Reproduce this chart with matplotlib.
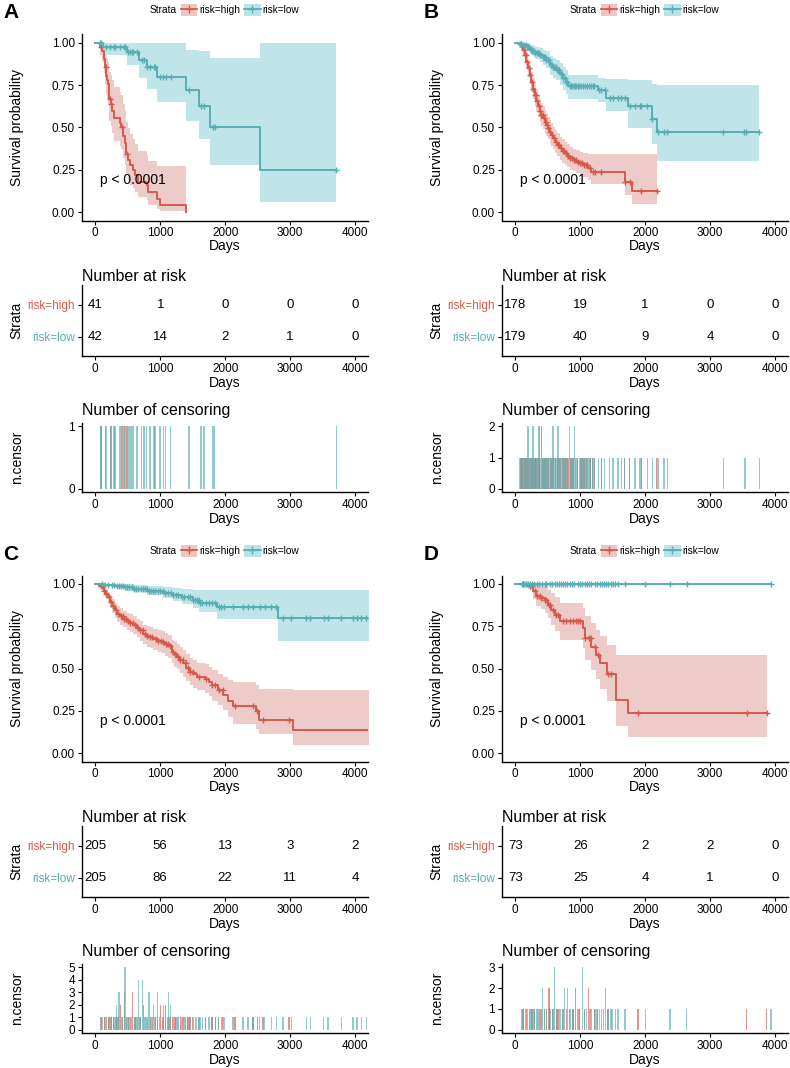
import numpy as np
import matplotlib
matplotlib.use('Agg')
import matplotlib.pyplot as plt
from matplotlib.patches import Patch
from matplotlib.lines import Line2D

plt.rcParams['font.family'] = ['Liberation Sans', 'DejaVu Sans']

RED = '#D65A4C'
TEAL = '#58AEB3'
FILL = {RED: '#EBC6C3', TEAL: '#BAE3E6'}
W, H = 790, 1068

risk_days = [0, 1000, 2000, 3000, 4000]

# ---- panel A ----
a_hi_t = [77, 103, 128, 140, 153, 170, 185, 194, 205, 215, 240, 260, 281, 383, 395, 434, 455, 470, 480, 511,
          540, 575, 613, 664, 792, 817, 945, 996, 1390]
a_hi_s = [0.976, 0.952, 0.928, 0.904, 0.855, 0.806, 0.782, 0.757, 0.709, 0.67, 0.64, 0.60, 0.555, 0.525, 0.50,
          0.45, 0.41, 0.38, 0.345, 0.31, 0.28, 0.25, 0.22, 0.18, 0.16, 0.12, 0.08, 0.04, 0.0]
a_hi_up = [1.0, 1.0, 1.0, 0.99, 0.96, 0.93, 0.91, 0.89, 0.86, 0.83, 0.81, 0.78, 0.74, 0.71, 0.69, 0.64, 0.60,
           0.57, 0.53, 0.50, 0.46, 0.43, 0.40, 0.36, 0.34, 0.30, 0.27, 0.27, 0.27]
a_hi_lo = [0.93, 0.89, 0.86, 0.82, 0.76, 0.70, 0.67, 0.64, 0.58, 0.54, 0.51, 0.47, 0.42, 0.39, 0.37, 0.32, 0.28,
           0.25, 0.22, 0.19, 0.16, 0.14, 0.12, 0.09, 0.07, 0.04, 0.02, 0.005, 0.0]
a_hi_cens = [92, 158, 230, 245, 409, 490]

a_lo_t = [123, 490, 680, 790, 945, 1395, 1594, 1773, 2529]
a_lo_s = [0.975, 0.945, 0.90, 0.855, 0.80, 0.72, 0.63, 0.505, 0.25]
a_lo_up = [1.0, 1.0, 1.0, 1.0, 1.0, 0.96, 0.95, 0.91, 1.0]
a_lo_lo = [0.93, 0.87, 0.79, 0.73, 0.65, 0.54, 0.43, 0.28, 0.057]
a_lo_cens = [77, 90, 169, 230, 291, 306, 383, 444, 460, 511, 536, 562, 587, 639, 715, 751, 792, 843, 904, 920,
             996, 1047, 1083, 1160, 1446, 1625, 1671, 1813, 1839, 3714]

a_risk_hi = [41, 1, 0, 0, 0]
a_risk_lo = [42, 14, 2, 1, 0]

# ---- panel B ----
b_hi_t = [50, 90, 120, 144, 170, 195, 220, 247, 272, 298, 325, 350, 375, 401, 430, 452, 480, 504, 530, 555,
          580, 607, 645, 684, 720, 761, 800, 838, 890, 941, 990, 1044, 1121, 1172, 1686, 1800]
b_hi_s = [0.994, 0.98, 0.96, 0.93, 0.89, 0.85, 0.81, 0.77, 0.73, 0.69, 0.655, 0.625, 0.60, 0.575, 0.555, 0.535,
          0.515, 0.496, 0.475, 0.456, 0.435, 0.417, 0.395, 0.377, 0.362, 0.348, 0.333, 0.318, 0.308, 0.298,
          0.289, 0.279, 0.259, 0.239, 0.18, 0.126]
b_hi_up = [1.0, 1.0, 0.99, 0.97, 0.94, 0.90, 0.87, 0.83, 0.79, 0.76, 0.72, 0.69, 0.67, 0.645, 0.625, 0.605,
           0.585, 0.565, 0.545, 0.525, 0.505, 0.485, 0.465, 0.445, 0.43, 0.415, 0.40, 0.385, 0.375, 0.365,
           0.355, 0.35, 0.345, 0.345, 0.345, 0.345]
b_hi_lo = [0.98, 0.96, 0.93, 0.89, 0.85, 0.80, 0.76, 0.71, 0.67, 0.63, 0.59, 0.56, 0.53, 0.51, 0.49, 0.47,
           0.45, 0.43, 0.41, 0.39, 0.37, 0.35, 0.33, 0.31, 0.29, 0.28, 0.265, 0.25, 0.24, 0.23, 0.22, 0.21,
           0.19, 0.165, 0.10, 0.047]
b_hi_cens = [85, 100, 130, 150, 165, 185, 210, 230, 255, 280, 300, 320, 340, 365, 375, 375, 401, 401, 420, 445,
             465, 490, 510, 540, 565, 590, 620, 650, 670, 700, 730, 750, 780, 810, 850, 870, 900, 930, 960,
             1000, 1030, 1060, 1090, 1110, 1150, 1190, 1224, 1327, 1686, 1763, 1943, 2175]

b_lo_t = [60, 120, 180, 221, 260, 300, 375, 420, 470, 530, 580, 632, 690, 735, 775, 812, 1275, 1404, 1738,
          2098, 2175]
b_lo_s = [0.994, 0.988, 0.976, 0.96, 0.952, 0.94, 0.93, 0.915, 0.90, 0.87, 0.855, 0.84, 0.815, 0.79, 0.77,
          0.745, 0.72, 0.675, 0.625, 0.55, 0.472]
b_lo_up = [1.0, 1.0, 1.0, 0.99, 0.985, 0.975, 0.97, 0.96, 0.95, 0.925, 0.91, 0.9, 0.88, 0.86, 0.84, 0.81,
           0.79, 0.785, 0.78, 0.76, 0.75]
b_lo_lo = [0.98, 0.97, 0.95, 0.93, 0.92, 0.905, 0.89, 0.87, 0.85, 0.81, 0.79, 0.78, 0.75, 0.72, 0.70, 0.67,
           0.65, 0.60, 0.50, 0.40, 0.30]
b_lo_cens = [70, 95, 120, 140, 160, 180, 195, 195, 215, 240, 255, 272, 272, 290, 310, 330, 345, 360, 360, 380,
             420, 440, 460, 480, 500, 520, 545, 560, 581, 581, 600, 620, 640, 658, 658, 680, 700, 720, 740,
             760, 780, 800, 838, 838, 860, 880, 900, 915, 915, 940, 960, 985, 1010, 1040, 1070, 1100, 1130,
             1160, 1190, 1215, 1285, 1327, 1378, 1455, 1506, 1584, 1635, 1686, 1763, 1841, 1918, 1943, 2036,
             2110, 2200, 2293, 2344, 3203, 3527, 3548, 3760]

b_risk_hi = [178, 19, 1, 0, 0]
b_risk_lo = [179, 40, 9, 4, 0]

# ---- panel C ----
c_hi_t = [60, 100, 130, 160, 190, 226, 260, 303, 340, 379, 430, 482, 530, 585, 640, 687, 740, 790, 840, 892,
          960, 1020, 1070, 1123, 1174, 1210, 1251, 1300, 1354, 1400, 1456, 1510, 1559, 1687, 1750, 1790, 1892,
          1969, 2046, 2123, 2482, 2523, 3046]
c_hi_s = [0.99, 0.975, 0.96, 0.94, 0.92, 0.895, 0.87, 0.845, 0.825, 0.81, 0.795, 0.78, 0.77, 0.76, 0.74,
          0.725, 0.705, 0.69, 0.685, 0.675, 0.665, 0.655, 0.645, 0.635, 0.60, 0.585, 0.57, 0.55, 0.53, 0.505,
          0.48, 0.465, 0.45, 0.44, 0.42, 0.40, 0.375, 0.345, 0.305, 0.276, 0.247, 0.197, 0.134]
c_hi_up = [1.0, 0.995, 0.985, 0.97, 0.955, 0.935, 0.91, 0.89, 0.87, 0.855, 0.84, 0.83, 0.82, 0.81, 0.79,
           0.78, 0.76, 0.75, 0.745, 0.735, 0.725, 0.72, 0.71, 0.70, 0.67, 0.66, 0.645, 0.625, 0.61, 0.585,
           0.56, 0.55, 0.535, 0.525, 0.51, 0.49, 0.47, 0.45, 0.43, 0.42, 0.40, 0.38, 0.375]
c_hi_lo = [0.975, 0.955, 0.935, 0.91, 0.885, 0.855, 0.83, 0.80, 0.775, 0.76, 0.745, 0.73, 0.715, 0.705,
           0.685, 0.665, 0.645, 0.63, 0.62, 0.61, 0.60, 0.59, 0.575, 0.565, 0.53, 0.51, 0.495, 0.475, 0.45,
           0.425, 0.40, 0.385, 0.37, 0.355, 0.335, 0.31, 0.285, 0.255, 0.215, 0.17, 0.14, 0.11, 0.05]
c_hi_cens = [90, 140, 170, 210, 240, 280, 320, 350, 390, 390, 420, 446, 446, 446, 480, 510, 540, 574, 574, 574,
             610, 650, 690, 738, 738, 770, 800, 850, 880, 930, 960, 1005, 1005, 1040, 1082, 1082, 1120, 1150,
             1190, 1230, 1270, 1310, 1350, 1390, 1430, 1460, 1500, 1600, 1700, 1800, 1850, 1900, 1960, 2149,
             2430, 2495, 2585, 2985, 4300, 4400]

c_lo_t = [150, 300, 450, 600, 800, 1050, 1200, 1328, 1500, 1600, 1870, 2815]
c_lo_s = [0.995, 0.99, 0.98, 0.97, 0.96, 0.945, 0.935, 0.923, 0.907, 0.89, 0.866, 0.80]
c_lo_up = [1.0, 1.0, 1.0, 0.995, 0.99, 0.98, 0.975, 0.97, 0.965, 0.965, 0.965, 0.965]
c_lo_lo = [0.985, 0.975, 0.96, 0.95, 0.935, 0.915, 0.9, 0.88, 0.855, 0.835, 0.79, 0.66]
c_lo_cens = [100, 150, 200, 250, 290, 328, 328, 364, 364, 364, 400, 420, 456, 456, 456, 456, 456, 490, 520, 560,
             600, 630, 661, 661, 661, 661, 700, 728, 728, 728, 728, 760, 790, 826, 826, 826, 860, 892, 892,
             920, 959, 959, 959, 990, 1046, 1046, 1080, 1123, 1123, 1123, 1159, 1159, 1200, 1240, 1280, 1330,
             1370, 1420, 1460, 1510, 1540, 1560, 1590, 1620, 1650, 1700, 1750, 1800, 1850, 1900, 1940, 1980,
             2123, 2277, 2354, 2431, 2533, 2610, 2713, 2790, 2892, 3021, 3251, 3313, 3518, 3585, 3790, 3969,
             4031, 4097, 4174, 4300]

c_risk_hi = [205, 56, 13, 3, 2]
c_risk_lo = [205, 86, 22, 11, 4]

# ---- panel D ----
d_hi_t = [195, 272, 324, 400, 452, 504, 555, 607, 684, 1044, 1069, 1172, 1249, 1301, 1419, 1558, 1738]
d_hi_s = [0.99, 0.957, 0.93, 0.917, 0.907, 0.878, 0.848, 0.818, 0.779, 0.74, 0.68, 0.63, 0.58, 0.53, 0.47,
          0.316, 0.237]
d_hi_up = [1.0, 1.0, 0.995, 0.99, 0.985, 0.965, 0.945, 0.92, 0.89, 0.86, 0.81, 0.77, 0.73, 0.69, 0.64, 0.58,
           0.58]
d_hi_lo = [0.97, 0.91, 0.87, 0.85, 0.83, 0.80, 0.76, 0.72, 0.67, 0.62, 0.55, 0.49, 0.44, 0.38, 0.31, 0.16,
           0.095]
d_hi_cens = [118, 170, 221, 260, 298, 339, 380, 401, 452, 480, 519, 519, 530, 581, 632, 660, 735, 787, 838,
             889, 931, 931, 970, 992, 1069, 1131, 1131, 1160, 1224, 1270, 1429, 1481, 1892, 3563, 3871]

d_lo_t = []
d_lo_s = []
d_lo_up = []
d_lo_lo = []
d_lo_cens = [100, 130, 160, 190, 230, 260, 290, 330, 360, 416, 416, 450, 480, 540, 570, 607, 607, 607, 640,
             680, 700, 730, 761, 761, 802, 802, 850, 880, 900, 960, 990, 1033, 1033, 1033, 1070, 1100, 1140,
             1170, 1230, 1260, 1300, 1330, 1360, 1393, 1393, 1430, 1470, 1500, 1540, 1580, 1690, 2005, 2380,
             2640, 3940]

d_risk_hi = [73, 26, 2, 2, 0]
d_risk_lo = [73, 25, 4, 1, 0]

fig = plt.figure(figsize=(W / 100, H / 100), dpi=100)


def box(l, t, r, b):
    return fig.add_axes([l / W, 1 - b / H, (r - l) / W, (b - t) / H])


def style(ax):
    for s in ['top', 'right']:
        ax.spines[s].set_visible(False)
    for s in ['left', 'bottom']:
        ax.spines[s].set_linewidth(1.0)
    ax.tick_params(length=3, width=0.8, pad=2, labelsize=8.5)
    ax.set_xlim(-205, 4200)
    ax.set_xticks(risk_days)


def steps(t, s, lo, up, cens):
    t = np.asarray(t, float)
    end = max(t.max() if len(t) else 0, max(cens))
    last = lambda a: a[-1] if len(a) else 1.0
    tt = np.r_[0, t, end]
    return tt, np.r_[1, s, last(s)], np.r_[1, lo, last(lo)], np.r_[1, up, last(up)]


def panel(ox, oy, letter, curves, risk_hi, risk_lo):
    # survival curves
    ax = box(82 + ox, 34.5 + oy, 368 + ox, 220.5 + oy)
    style(ax)
    ax.set_ylim(-0.05, 1.05)
    ax.set_yticks([0, 0.25, 0.5, 0.75, 1.0])
    ax.set_yticklabels(['0.00', '0.25', '0.50', '0.75', '1.00'])
    for t, s, lo, up, cens, col in curves:
        tt, ss, ll, uu = steps(t, s, lo, up, cens)
        ax.fill_between(tt, ll, uu, step='post', color=FILL[col], alpha=0.9, lw=0)
    for t, s, lo, up, cens, col in curves:
        tt, ss, ll, uu = steps(t, s, lo, up, cens)
        ax.step(tt, ss, where='post', color=col, lw=1.4)
        ct = np.unique(cens)
        sv = np.r_[1, s][np.searchsorted(np.asarray(t, float), ct, side='right')]
        ax.plot(ct, sv, '+', color=col, ms=5, mew=1)
    ax.text(75, 0.19, 'p < 0.0001', fontsize=10, ha='left', va='center')
    ax.set_xlabel('Days', fontsize=10)
    ax.set_ylabel('Survival probability', fontsize=10)
    ax.xaxis.set_label_coords(0.5, -25.5 / 186)
    ax.xaxis.label.set_va('center')
    ax.yaxis.set_label_coords(-65 / 286, 0.5)
    ax.yaxis.label.set_va('center')

    # legend
    fig.text((177 + ox) / W, 1 - (10 + oy) / H, 'Strata', fontsize=7.3, ha='right', va='center')
    handles = [(Patch(facecolor=FILL[c], edgecolor='none'),
                Line2D([], [], color=c, lw=1.3, marker='+', ms=6)) for c in (RED, TEAL)]
    fig.legend(handles, ['risk=high', 'risk=low'], loc='center left',
               bbox_to_anchor=((181 + ox) / W, 1 - (10 + oy) / H), ncol=2, frameon=False,
               fontsize=7.3, handlelength=1.6, handleheight=1.3, handletextpad=0.2,
               columnspacing=0.4, borderpad=0, borderaxespad=0)
    fig.text((11 + ox) / W, 1 - (13 + oy) / H, letter, fontsize=15, fontweight='bold',
             ha='center', va='center')

    # number at risk
    ax = box(82 + ox, 285 + oy, 368 + ox, 356 + oy)
    style(ax)
    ax.set_ylim(0.406, 2.625)
    ax.set_yticks([2, 1])
    ax.set_yticklabels(['risk=high', 'risk=low'])
    for lab, c in zip(ax.get_yticklabels(), (RED, TEAL)):
        lab.set_color(c)
    for x, n1, n2 in zip(risk_days, risk_hi, risk_lo):
        ax.text(x, 2, str(n1), ha='center', va='center', fontsize=9.5)
        ax.text(x, 1, str(n2), ha='center', va='center', fontsize=9.5)
    ax.set_title('Number at risk', loc='left', fontsize=11.5, pad=3)
    ax.set_xlabel('Days', fontsize=10)
    ax.set_ylabel('Strata', fontsize=10)
    ax.xaxis.set_label_coords(0.5, -27 / 71)
    ax.xaxis.label.set_va('center')
    ax.yaxis.set_label_coords(-66 / 286, 0.5)
    ax.yaxis.label.set_va('center')

    # number of censoring
    ax = box(82 + ox, 423 + oy, 368 + ox, 492 + oy)
    style(ax)
    cmax = 1
    for t, s, lo, up, cens, col in curves:
        ct, cn = np.unique(cens, return_counts=True)
        ax.bar(ct, cn, width=22, color=col, alpha=0.65, lw=0)
        cmax = max(cmax, cn.max())
    ax.set_ylim(-0.05 * cmax, 1.05 * cmax)
    ax.set_yticks(range(cmax + 1))
    ax.set_title('Number of censoring', loc='left', fontsize=11.5, pad=6)
    ax.set_xlabel('Days', fontsize=10)
    ax.set_ylabel('n.censor', fontsize=10)
    ax.xaxis.set_label_coords(0.5, -27 / 69)
    ax.xaxis.label.set_va('center')
    ax.yaxis.set_label_coords(-65 / 286, 0.5)
    ax.yaxis.label.set_va('center')


panel(0, 0, 'A',
      [(a_hi_t, a_hi_s, a_hi_lo, a_hi_up, a_hi_cens, RED),
       (a_lo_t, a_lo_s, a_lo_lo, a_lo_up, a_lo_cens, TEAL)], a_risk_hi, a_risk_lo)
panel(420, 0, 'B',
      [(b_hi_t, b_hi_s, b_hi_lo, b_hi_up, b_hi_cens, RED),
       (b_lo_t, b_lo_s, b_lo_lo, b_lo_up, b_lo_cens, TEAL)], b_risk_hi, b_risk_lo)
panel(0, 541, 'C',
      [(c_hi_t, c_hi_s, c_hi_lo, c_hi_up, c_hi_cens, RED),
       (c_lo_t, c_lo_s, c_lo_lo, c_lo_up, c_lo_cens, TEAL)], c_risk_hi, c_risk_lo)
panel(420, 541, 'D',
      [(d_hi_t, d_hi_s, d_hi_lo, d_hi_up, d_hi_cens, RED),
       (d_lo_t, d_lo_s, d_lo_lo, d_lo_up, d_lo_cens, TEAL)], d_risk_hi, d_risk_lo)

fig.savefig('out.png', dpi=100)
